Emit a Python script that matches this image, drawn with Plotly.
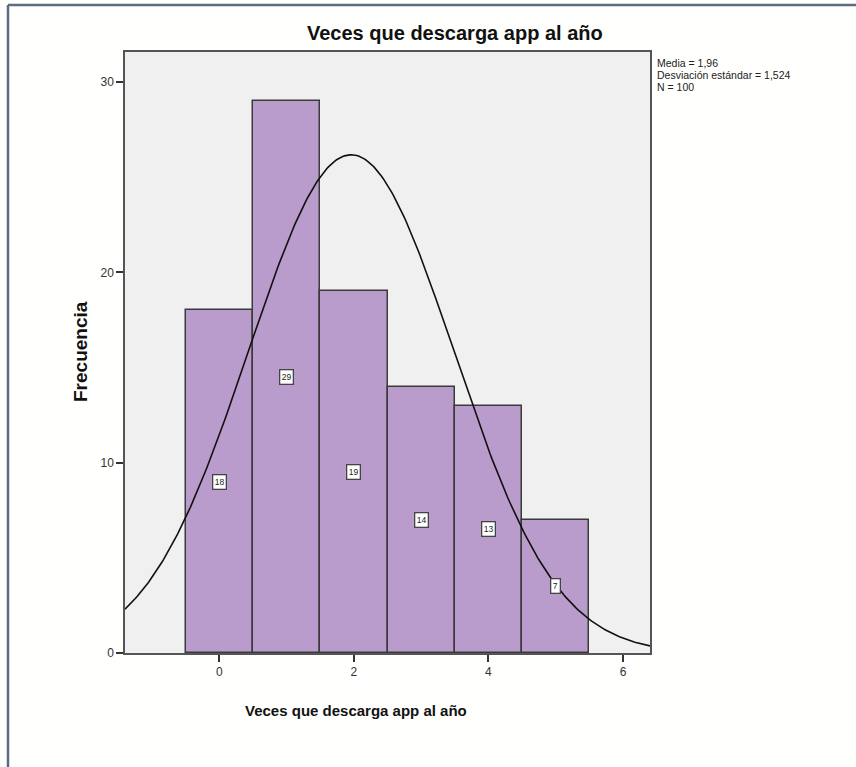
import numpy as np
import plotly.graph_objects as go

categories = [0, 1, 2, 3, 4, 5]
frequencies = [18, 29, 19, 14, 13, 7]
mean_val = 1.96
sd_val = 1.524
n_val = 100
x_ticks = [0, 2, 4, 6]
y_ticks = [0, 10, 20, 30]
stats_lines = ["Media = 1,96", "Desviación estándar = 1,524", "N = 100"]

FONT2 = "Liberation Sans, Arial"

fig = go.Figure()
fig.add_trace(go.Bar(
    x=categories, y=frequencies, width=1.0,
    marker=dict(color="#b99ccb", line=dict(color="#3a3a3a", width=1.5)),
    hoverinfo="x+y", showlegend=False,
))

xs = np.linspace(-1.4, 6.4, 300)
ys = n_val * np.exp(-0.5 * ((xs - mean_val) / sd_val) ** 2) / (sd_val * np.sqrt(2 * np.pi))
fig.add_trace(go.Scatter(x=xs, y=ys, mode="lines", line=dict(color="#111111", width=1.6),
                         showlegend=False, hoverinfo="skip"))

L, R, T, B = 125, 206, 52, 114
W, H = 856, 767
pw, ph = W - L - R, H - T - B

annotations = []
for c, f in zip(categories, frequencies):
    annotations.append(dict(x=c, y=f / 2, xref="x", yref="y", text=str(f), showarrow=False,
                            font=dict(family=FONT2, size=8.5, color="#222"),
                            bgcolor="white", bordercolor="#444", borderwidth=1.3, borderpad=1.5))

def px(x):
    return (x - L) / pw

def py(y):
    return (H - B - y) / ph

annotations.append(dict(x=px(455), y=py(33), xref="paper", yref="paper", text="<b>Veces que descarga app al año</b>",
                        showarrow=False, xanchor="center", yanchor="middle",
                        font=dict(family=FONT2, size=20, color="#111")))
annotations.append(dict(x=px(356), y=py(710), xref="paper", yref="paper", text="<b>Veces que descarga app al año</b>",
                        showarrow=False, xanchor="center", yanchor="middle",
                        font=dict(family=FONT2, size=15, color="#111")))
annotations.append(dict(x=px(80), y=py(352), xref="paper", yref="paper", text="<b>Frecuencia</b>",
                        showarrow=False, xanchor="center", yanchor="middle", textangle=-90,
                        font=dict(family=FONT2, size=19, color="#111")))
for i, line in enumerate(stats_lines):
    annotations.append(dict(x=px(656), y=py(63 + 12 * i), xref="paper", yref="paper",
                            text=line, showarrow=False, xanchor="left", yanchor="middle", align="left",
                            borderpad=0,
                            font=dict(family=FONT2, size=10.5, color="#222")))

shapes = [
    dict(type="line", xref="paper", yref="paper", x0=px(8), x1=px(856), y0=py(5), y1=py(5),
         line=dict(color="#5b6b82", width=2.5)),
    dict(type="line", xref="paper", yref="paper", x0=px(8), x1=px(8), y0=py(5), y1=py(767),
         line=dict(color="#5b6b82", width=2.5)),
]

fig.update_layout(
    width=W, height=H,
    margin=dict(l=L, r=R, t=T, b=B),
    paper_bgcolor="#fffffd",
    plot_bgcolor="#f0f0f0",
    bargap=0,
    annotations=annotations,
    shapes=shapes,
    xaxis=dict(range=[-1.4, 6.4], tickvals=x_ticks, ticktext=[str(v) for v in x_ticks],
               ticks="outside", ticklen=7, tickcolor="#333", tickwidth=1.5,
               showline=True, linecolor="#555", linewidth=1.5, mirror=True,
               showgrid=False, zeroline=False,
               tickfont=dict(family=FONT2, size=12, color="#333")),
    yaxis=dict(range=[0, 31.58], tickvals=y_ticks, ticktext=[str(v) for v in y_ticks],
               ticks="outside", ticklen=7, tickcolor="#333", tickwidth=1.5,
               showline=True, linecolor="#555", linewidth=1.5, mirror=True,
               showgrid=False, zeroline=False,
               tickfont=dict(family=FONT2, size=12, color="#333")),
)

fig.write_html("out.html", config={"displayModeBar": False},
               post_script="document.body.style.margin='0';document.body.style.overflow='hidden';")
